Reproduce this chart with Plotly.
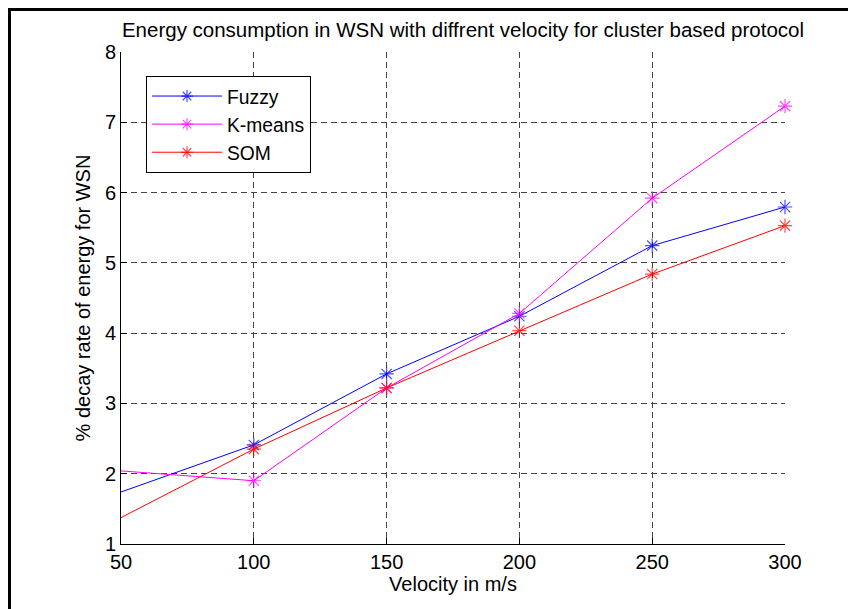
import plotly.graph_objects as go

velocity = [50, 100, 150, 200, 250, 300]
fuzzy = [1.74, 2.41, 3.42, 4.24, 5.245, 5.795]
kmeans = [2.04, 1.90, 3.22, 4.28, 5.92, 7.23]
som = [1.375, 2.35, 3.22, 4.035, 4.84, 5.53]
y_ticks = [1, 2, 3, 4, 5, 6, 7, 8]

series = [("Fuzzy", fuzzy, "rgb(0,0,255)"),
          ("K-means", kmeans, "rgb(255,0,255)"),
          ("SOM", som, "rgb(255,0,0)")]

FONT = "Liberation Sans, Arial, Helvetica, sans-serif"
W, H = 848, 601
L, R, T, B = 113, 71, 44, 65
PW, PH = W - L - R, H - T - B

fig = go.Figure()
msizes = [0] + [12] * (len(velocity) - 1)
for name, vals, col in series:
    fig.add_trace(go.Scatter(
        x=velocity, y=vals, name=name, mode="lines+markers",
        line=dict(color=col, width=1),
        marker=dict(symbol="asterisk-open", size=msizes, color=col,
                    line=dict(color=col, width=1.2)),
        cliponaxis=False,
    ))

axis_common = dict(
    showline=True, linecolor="black", linewidth=1, mirror=False,
    ticks="inside", ticklen=6, tickcolor="black",
    showgrid=True, gridcolor="#444444", griddash="6px,4px", gridwidth=1,
    zeroline=False, tickfont=dict(family=FONT, size=20, color="black"),
)
fig.update_xaxes(range=[50, 300], tickvals=velocity,
                 title=dict(text="Velocity in m/s", font=dict(family=FONT, size=20, color="black"), standoff=0),
                 **axis_common)
fig.update_yaxes(range=[1, 8], tickvals=y_ticks,
                 title=dict(text="% decay rate of energy for WSN", font=dict(family=FONT, size=20, color="black"), standoff=8),
                 **axis_common)

px_x = lambda p: (p - L) / PW
px_y = lambda p: 1 - (p - T) / PH

fig.update_layout(
    width=W, height=H,
    margin=dict(l=L, r=R, t=T, b=B),
    paper_bgcolor="white", plot_bgcolor="white",
    title=dict(text="Energy consumption in WSN with diffrent velocity for cluster based protocol",
               x=px_x(455), xref="paper", xanchor="center", y=1 - 22 / H, yanchor="middle",
               font=dict(family=FONT, size=20.5, color="black")),
    legend=dict(x=px_x(138), y=px_y(68), xanchor="left", yanchor="top",
                bgcolor="white", bordercolor="black", borderwidth=1,
                font=dict(family=FONT, size=19.3, color="black"),
                itemwidth=70, tracegroupgap=0),
    showlegend=True,
    shapes=[
        dict(type="line", xref="paper", yref="paper", x0=px_x(0), x1=px_x(W + 10), y0=px_y(1.5), y1=px_y(1.5),
             line=dict(color="black", width=3)),
        dict(type="line", xref="paper", yref="paper", x0=px_x(1.5), x1=px_x(1.5), y0=px_y(0), y1=px_y(H + 10),
             line=dict(color="black", width=3)),
    ],
)
fig.write_html("out.html")
